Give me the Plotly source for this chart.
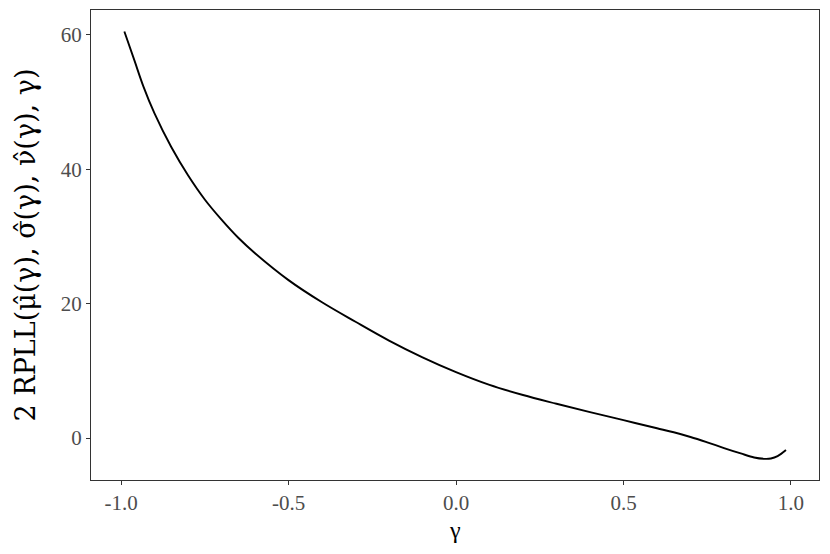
import plotly.graph_objects as go

# profile log-likelihood curve
gamma = [-0.99, -0.96, -0.933, -0.9, -0.85, -0.8, -0.75, -0.7, -0.65, -0.6,
         -0.5, -0.4, -0.3, -0.2, -0.1, 0.0, 0.1, 0.2, 0.3, 0.4,
         0.5, 0.6, 0.65, 0.7, 0.75, 0.8, 0.85, 0.89, 0.92, 0.94,
         0.96, 0.985]
rpll = [60.5, 56.2, 52.3, 48.3, 43.3, 39.1, 35.5, 32.5, 29.8, 27.5,
        23.5, 20.2, 17.3, 14.5, 12.0, 9.8, 7.9, 6.4, 5.1, 3.85,
        2.65, 1.45, 0.85, 0.15, -0.65, -1.5, -2.3, -2.9, -3.1, -3.05,
        -2.7, -1.8]

x_ticks = [-1.0, -0.5, 0.0, 0.5, 1.0]
x_ticktext = ["-1.0", "-0.5", "0.0", "0.5", "1.0"]
y_ticks = [0, 20, 40, 60]
y_ticktext = ["0", "20", "40", "60"]

FONT = "Liberation Serif"
BORDER = "#333333"
TICKTXT = "#4D4D4D"

fig = go.Figure()
fig.add_trace(go.Scatter(
    x=gamma, y=rpll, mode="lines", line=dict(color="black", width=1.9, shape="spline"),
    showlegend=False,
))

axis_common = dict(
    showgrid=False, zeroline=False, showline=True, mirror=True,
    linecolor=BORDER, linewidth=1.2, ticks="outside", ticklen=4,
    tickcolor=BORDER, tickwidth=1.2,
    tickfont=dict(family=FONT, size=21, color=TICKTXT),
)

# page body has an 8px margin, so the figure is sized to sit inside it
fig.update_layout(
    width=814, height=538,
    paper_bgcolor="white", plot_bgcolor="white",
    margin=dict(l=83, r=3, t=2, b=66),
    font=dict(family=FONT, color="black"),
    xaxis=dict(
        range=[-1.0896, 1.0836], tickvals=x_ticks, ticktext=x_ticktext,
        **axis_common,
    ),
    yaxis=dict(
        range=[-6.25, 63.7], tickvals=y_ticks, ticktext=y_ticktext,
        title=dict(text="2 RPLL(μ̂(γ), σ̂(γ), ν̂(γ), γ)",
                   font=dict(family="DejaVu Serif", size=27, color="black"), standoff=17),
        **axis_common,
    ),
)

# x title placed by hand, just under the tick labels
fig.add_annotation(
    text="γ", xref="paper", yref="paper", x=0.5, y=-0.0745,
    xanchor="center", yanchor="top", showarrow=False,
    font=dict(family=FONT, size=24, color="black"),
)

fig.write_html("out.html")
